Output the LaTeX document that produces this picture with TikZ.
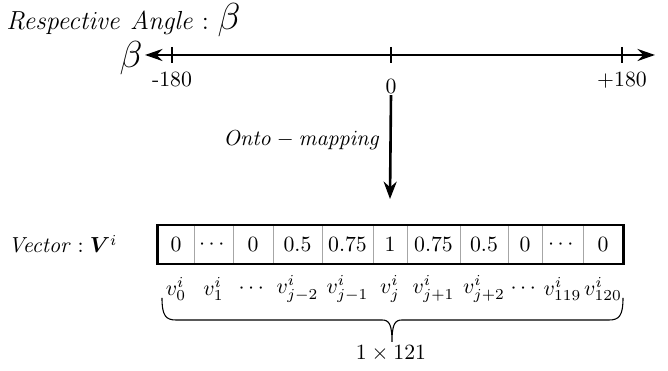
\documentclass[tikz,border=0pt]{standalone}
\usepackage{amsmath,amssymb,bm}
\usetikzlibrary{positioning,arrows.meta,calc}
\tikzset{
  cellbox/.style={draw=gray!70,line width=0.4pt,inner sep=0pt,minimum height=17.5pt,font=\normalsize},
  vlab/.style={inner sep=0pt,font=\normalsize},
  ticklab/.style={inner sep=1pt,font=\normalsize},
}
\begin{document}
\begin{tikzpicture}[x=0.46pt,y=-0.46pt]
  \useasboundingbox (0,0) rectangle (668,371);
  % title
  \node[anchor=west,inner sep=0pt] (title) at (6,20) {\large $\mathit{Respective\ Angle} :$ {\LARGE$\beta$}};
  % axis
  \coordinate (axl) at (145,55);
  \coordinate (axr) at (655,55);
  \draw[line width=1.2pt,{Stealth[length=8pt,width=5.5pt]}-{Stealth[length=8pt,width=5.5pt]}] (axl) -- (axr);
  \node[anchor=east,inner sep=1pt] (beta) at ($(axl)+(0,3)$) {\LARGE $\beta$};
  \foreach \x/\name/\txt/\ly in {172/mlo/-180/80,391/zero/0/87,622/mhi/+180/80} {
    \draw[line width=0.8pt] (\x,47) -- (\x,63);
    \node[ticklab] (\name) at (\x,\ly) {\txt};
  }
  % vector cells
  \foreach \i/\xa/\xb/\val/\lab in {
      1/158/194/0/v_0^i, 2/194/233/\cdots/v_1^i, 3/233/273/0/\cdots,
      4/273/322/0.5/v_{j-2}^i, 5/322/373/0.75/v_{j-1}^i, 6/373/407/1/v_j^i,
      7/407/460/0.75/v_{j+1}^i, 8/460/508/0.5/v_{j+2}^i, 9/508/542/0/\cdots,
      10/542/583/\cdots/v_{119}^i, 11/583/623/0/v_{120}^i} {
    \node[cellbox,minimum width={(\xb-\xa)*0.46pt}] (cell\i) at ({(\xa+\xb)/2},244.5) {$\val$};
    \node[vlab] (lab\i) at ({(\xa+\xb)/2},289) {$\lab$};
  }
  \draw[line width=1.2pt] (cell1.north west) rectangle (cell11.south east);
  \node[anchor=west,inner sep=0pt] (vec) at (8,244) {$\mathit{Vector} : \bm{V}^i$};
  % mapping arrow
  \coordinate (arrend) at ($(cell6.north)+(0,-26)$);
  \draw[line width=1.2pt,-{Stealth[length=8pt,width=6pt]}] (zero.south) ++(0,-2) -- (arrend);
  \node[anchor=east,inner sep=0pt] (onto) at (381,140) {$\mathit{Onto} - \mathit{mapping}$};
  % brace (drawn by hand, sharp ends)
  \coordinate (brl) at (162,298);
  \coordinate (brr) at (623,298);
  \coordinate (brtip) at (392,342);
  \draw[line width=0.5pt] (brl) .. controls (162,316) and (166,320) .. (176,320)
    -- (382,320) .. controls (389,320) and (392,324) .. (brtip)
    .. controls (392,324) and (395,320) .. (402,320)
    -- (609,320) .. controls (619,320) and (623,316) .. (brr);
  \node[inner sep=1pt] (size) at (391,353) {$1\times 121$};
\end{tikzpicture}
\end{document}
